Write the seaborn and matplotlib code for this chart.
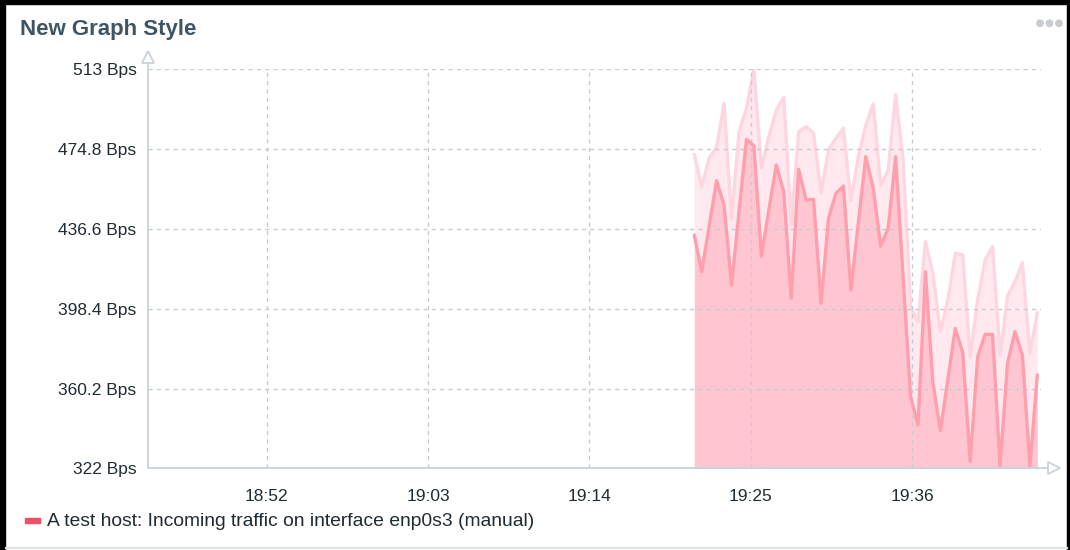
import matplotlib
matplotlib.use("Agg")
import matplotlib.pyplot as plt
import matplotlib.dates as mdates
from matplotlib.patches import Rectangle, Ellipse
import pandas as pd
import seaborn as sns

# ---------------- data ----------------
title = "New Graph Style"
series_label = "A test host: Incoming traffic on interface enp0s3 (manual)"
start_time = "2024-01-01 19:21:09"
step = "30500ms"
avg_values = [433.7, 416.1, 437.9, 459.7, 448.0, 409.7, 444.7, 479.5, 476.3, 423.6,
              445.6, 467.2, 454.4, 403.4, 465.1, 450.4, 450.8, 401.0, 441.7, 453.6,
              457.1, 407.3, 439.4, 471.2, 456.0, 428.4, 436.9, 471.2, 414.0, 356.3,
              342.7, 416.1, 362.7, 340.0, 364.5, 389.0, 377.3, 325.2, 375.4, 386.1,
              386.1, 322.8, 372.3, 387.4, 376.2, 322.8, 366.7]
max_values = [472.3, 456.8, 470.4, 475.7, 496.7, 441.2, 483.1, 494.3, 513.0, 465.6,
              480.7, 493.5, 499.6, 438.5, 483.1, 485.5, 482.4, 453.9, 474.4, 480.0,
              484.8, 450.1, 471.2, 486.3, 496.4, 457.6, 464.8, 500.7, 469.6, 399.4,
              392.2, 430.5, 415.3, 387.4, 402.6, 424.9, 424.1, 375.4, 402.6, 421.7,
              428.1, 376.2, 404.5, 411.3, 420.4, 377.0, 396.5]
y_ticks = [322, 360.2, 398.4, 436.6, 474.8, 513]
y_tick_labels = ["322 Bps", "360.2 Bps", "398.4 Bps", "436.6 Bps", "474.8 Bps", "513 Bps"]
x_tick_times = ["18:52", "19:03", "19:14", "19:25", "19:36"]
x_range = ["18:43:54", "19:44:47"]
day = "2024-01-01"

times = pd.date_range(start_time, periods=len(avg_values), freq=step)
df = pd.DataFrame({"time": times, "avg": avg_values, "max": max_values})

# ---------------- style ----------------
sns.set_style("white")
plt.rcParams["font.family"] = ["Liberation Sans", "DejaVu Sans"]

TEXT = "#1f2c33"
GRID = "#c6ccd2"
AXIS = "#c9d2da"
AVG_LINE = "#ff9fae"
AVG_FILL = "#ffc6d1"
MAX_LINE = "#ffd6df"
MAX_FILL = "#ffe9ef"
LEGEND_RED = "#f24f64"

fig = plt.figure(figsize=(10.7, 5.5), dpi=100)
W, H = 1070, 550
ax = fig.add_axes([147.7 / W, 1 - 468.3 / H, (1041 - 147.7) / W, (468.3 - 69.3) / H])

ymin, ymax = y_ticks[0], y_ticks[-1]
ax.fill_between(df["time"], df["avg"], df["max"], color=MAX_FILL, lw=0, zorder=1)
ax.fill_between(df["time"], ymin, df["avg"], color=AVG_FILL, lw=0, zorder=1)
sns.lineplot(data=df, x="time", y="max", ax=ax, color=MAX_LINE, lw=2.4, zorder=2)
sns.lineplot(data=df, x="time", y="avg", ax=ax, color=AVG_LINE, lw=2.4, zorder=3)

ax.set_xlim(pd.Timestamp(f"{day} {x_range[0]}"), pd.Timestamp(f"{day} {x_range[1]}"))
ax.set_ylim(ymin, ymax)
ax.set_yticks(y_ticks)
ax.set_yticklabels(y_tick_labels)
ax.set_xticks([pd.Timestamp(f"{day} {t}") for t in x_tick_times])
ax.xaxis.set_major_formatter(mdates.DateFormatter("%H:%M"))
ax.set_xlabel("")
ax.set_ylabel("")
ax.tick_params(axis="both", length=0, labelsize=12.5, colors=TEXT)
ax.tick_params(axis="y", pad=8)
ax.tick_params(axis="x", pad=15)

ax.grid(True, color=GRID, linestyle=(0, (3, 3)), lw=1)
ax.set_axisbelow(False)
for ln in ax.get_xgridlines() + ax.get_ygridlines():
    ln.set_zorder(1.5)

for s in ax.spines.values():
    s.set_visible(False)

# axis lines with open arrows
ax.plot([0, 0], [0, 1.018], transform=ax.transAxes, color=AXIS, lw=1.3, clip_on=False, zorder=4)
ax.plot([0, 1.008], [0, 0], transform=ax.transAxes, color=AXIS, lw=1.3, clip_on=False, zorder=4)
ax.plot([0], [1.03], transform=ax.transAxes, marker="^", ms=9, mfc="white", mec=AXIS,
        mew=1.3, clip_on=False, zorder=5)
ax.plot([1.014], [0], transform=ax.transAxes, marker=">", ms=9, mfc="white", mec=AXIS,
        mew=1.3, clip_on=False, zorder=5)

# title and menu dots
fig.text(20 / W, 1 - 30 / H, title, fontsize=16, fontweight="bold", color="#3e5566",
         va="center", ha="left")
for xd in [1040, 1049.5, 1059]:
    fig.patches.append(Ellipse((xd / W, 1 - 23.3 / H), 6.4 / W, 6.4 / H,
                               transform=fig.transFigure, color="#c9cdd2", zorder=5))

# legend
fig.patches.append(Rectangle((25 / W, 1 - 523 / H), 15 / W, 5 / H, transform=fig.transFigure,
                             color=LEGEND_RED))
fig.text(47 / W, 1 - 521.5 / H, series_label, fontsize=13.9, color=TEXT, va="center", ha="left")

# outer frame
fig.patches.append(Rectangle((0, 0), 5 / W, 1, transform=fig.transFigure, color="black"))
fig.patches.append(Rectangle((0, 1 - 4 / H), 1, 4 / H, transform=fig.transFigure, color="black"))
fig.patches.append(Rectangle((1 - 3 / W, 0), 3 / W, 1, transform=fig.transFigure, color="black"))
fig.patches.append(Rectangle((5 / W, 2 / H), 1 - 8 / W, 1.2 / H, transform=fig.transFigure,
                             color="#e3e6e8"))

fig.savefig("out.png", dpi=100)
